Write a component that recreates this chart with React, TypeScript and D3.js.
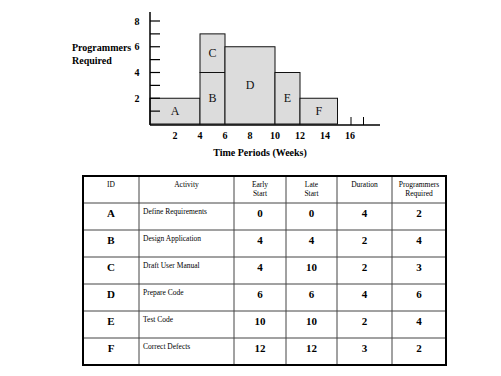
import React from "react";
import * as d3 from "d3";

const ids = ["A", "B", "C", "D", "E", "F"];
const activities = [
  "Define Requirements",
  "Design Application",
  "Draft User Manual",
  "Prepare Code",
  "Test Code",
  "Correct Defects",
];
const earlyStart = [0, 4, 4, 6, 10, 12];
const lateStart = [0, 4, 10, 6, 10, 12];
const duration = [4, 2, 2, 4, 2, 3];
const programmers = [2, 4, 3, 6, 4, 2];
const yTickValues = [1, 2, 3, 4, 5, 6, 7, 8];
const yTickLabels = [2, 4, 6, 8];
const xTickLabels = [2, 4, 6, 8, 10, 12, 14, 16];
const xExtraTicks = [16, 17];
const headers = [
  ["ID"],
  ["Activity"],
  ["Early", "Start"],
  ["Late", "Start"],
  ["Duration"],
  ["Programmers", "Required"],
];

const FONT = "'Liberation Serif', 'DejaVu Serif', serif";

export default function App() {
  const x = d3.scaleLinear().domain([0, 16]).range([150, 350]);
  const y = d3.scaleLinear().domain([0, 8]).range([124, 21]);

  // stack overlapping activities
  const bars = ids.map((id, i) => {
    const s = earlyStart[i];
    const e = s + duration[i];
    let base = 0;
    for (let j = 0; j < i; j++) {
      const sj = earlyStart[j];
      const ej = sj + duration[j];
      if (sj < e && s < ej) base += programmers[j];
    }
    return { id, x0: s, x1: e, y0: base, y1: base + programmers[i] };
  });

  // table geometry
  const colEdges = [83, 139, 234, 286, 337, 392, 446];
  const tableTop = 176;
  const headerBottom = 203;
  const rowH = 27;
  const rowTop = (i: number) => headerBottom + i * rowH;
  const tableBottom = rowTop(ids.length);
  const colMid = (c: number) => (colEdges[c] + colEdges[c + 1]) / 2;

  return (
    <svg
      width={501}
      height={376}
      style={{ position: "absolute", left: 0, top: 0, background: "#fff" }}
      fontFamily={FONT}
    >
      {/* bars */}
      {bars.map((b) => (
        <g key={b.id}>
          <rect
            x={x(b.x0)}
            y={y(b.y1)}
            width={x(b.x1) - x(b.x0)}
            height={y(b.y0) - y(b.y1)}
            fill="#dcdcdc"
            stroke="#111"
            strokeWidth={1}
          />
          <text
            x={(x(b.x0) + x(b.x1)) / 2}
            y={(y(b.y0) + y(b.y1)) / 2}
            textAnchor="middle"
            dominantBaseline="central"
            fontSize={12}
            fill="#111"
          >
            {b.id}
          </text>
        </g>
      ))}

      {/* y axis */}
      <line x1={150} x2={150} y1={12} y2={125} stroke="#000" strokeWidth={1.5} />
      {yTickValues.map((v) => (
        <line key={v} x1={150} x2={160} y1={y(v)} y2={y(v)} stroke="#000" strokeWidth={1.2} />
      ))}
      {yTickLabels.map((v) => (
        <text
          key={v}
          x={137}
          y={y(v)}
          textAnchor="middle"
          dominantBaseline="central"
          fontSize={10}
          fontWeight="bold"
        >
          {v}
        </text>
      ))}
      <text x={72} y={47} fontSize={10} fontWeight="bold" dominantBaseline="central">
        Programmers
      </text>
      <text x={72} y={60} fontSize={10} fontWeight="bold" dominantBaseline="central">
        Required
      </text>

      {/* x axis */}
      <line x1={150} x2={380} y1={125} y2={125} stroke="#000" strokeWidth={1.5} />
      {xExtraTicks.map((v) => (
        <line key={v} x1={x(v) + 1} x2={x(v) + 1} y1={125} y2={117} stroke="#000" strokeWidth={1} />
      ))}
      {xTickLabels.map((v) => (
        <text
          key={v}
          x={x(v)}
          y={135}
          textAnchor="middle"
          dominantBaseline="central"
          fontSize={10}
          fontWeight="bold"
        >
          {v}
        </text>
      ))}
      <text x={260} y={152} textAnchor="middle" dominantBaseline="central" fontSize={10} fontWeight="bold">
        Time Periods (Weeks)
      </text>

      {/* table */}
      {headers.map((h, c) =>
        h.map((line, k) => (
          <text
            key={c + "-" + k}
            x={colMid(c)}
            y={h.length === 1 ? 184 : 184 + k * 9}
            textAnchor="middle"
            dominantBaseline="central"
            fontSize={7.5}
          >
            {line}
          </text>
        ))
      )}
      {ids.map((id, i) => {
        const top = rowTop(i);
        const vals = [earlyStart[i], lateStart[i], duration[i], programmers[i]];
        return (
          <g key={id}>
            <text x={colMid(0)} y={top + 10} textAnchor="middle" dominantBaseline="central" fontSize={11} fontWeight="bold">
              {id}
            </text>
            <text x={colEdges[1] + 4} y={top + 8} dominantBaseline="central" fontSize={7.5}>
              {activities[i]}
            </text>
            {vals.map((v, k) => (
              <text
                key={k}
                x={colMid(k + 2)}
                y={top + 10}
                textAnchor="middle"
                dominantBaseline="central"
                fontSize={11}
                fontWeight="bold"
              >
                {v}
              </text>
            ))}
          </g>
        );
      })}
      {/* inner lines */}
      {colEdges.slice(1, -1).map((cx) => (
        <line key={cx} x1={cx} x2={cx} y1={tableTop} y2={tableBottom} stroke="#444" strokeWidth={1} />
      ))}
      {d3.range(0, ids.length).map((i) => (
        <line
          key={i}
          x1={colEdges[0]}
          x2={colEdges[colEdges.length - 1]}
          y1={rowTop(i)}
          y2={rowTop(i)}
          stroke="#444"
          strokeWidth={1}
        />
      ))}
      <rect
        x={colEdges[0]}
        y={tableTop}
        width={colEdges[colEdges.length - 1] - colEdges[0]}
        height={tableBottom - tableTop}
        fill="none"
        stroke="#000"
        strokeWidth={2}
      />
    </svg>
  );
}
